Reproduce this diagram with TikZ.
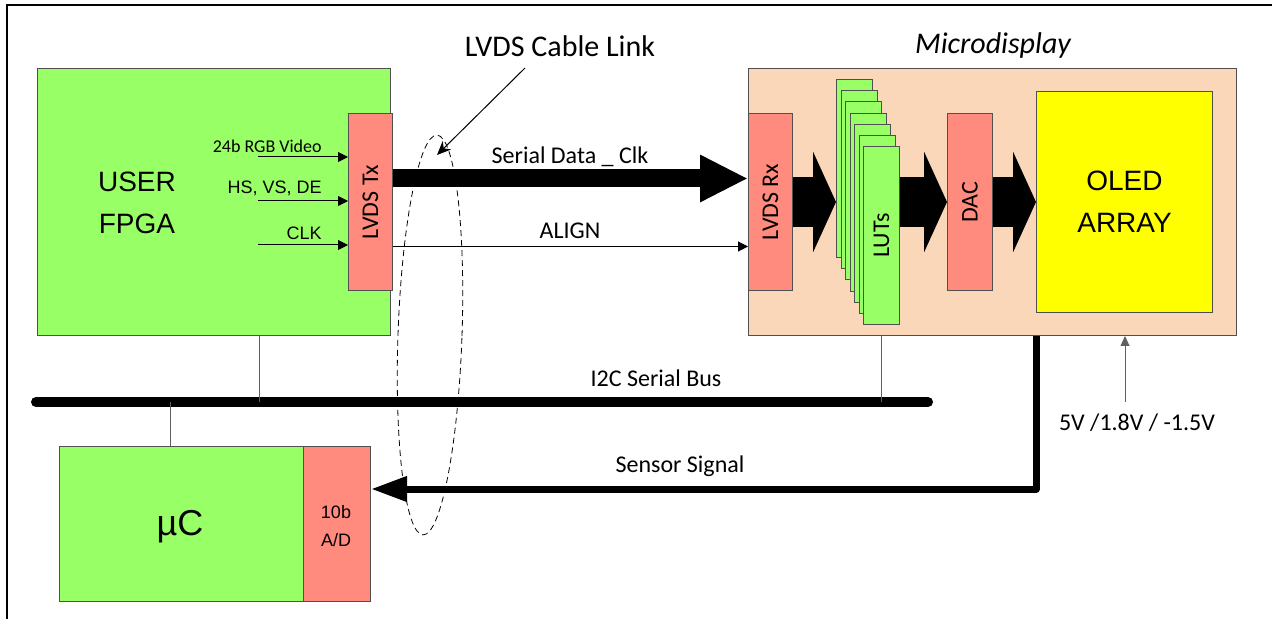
\documentclass[tikz,border=0pt]{standalone}
\usepackage{fontspec}
\setmainfont{Carlito}
\newfontfamily\arial{Liberation Sans}
\usetikzlibrary{arrows.meta,shapes.geometric,calc}
\definecolor{fgreen}{HTML}{99FF66}
\definecolor{salmon}{HTML}{FF8A7E}
\definecolor{peach}{HTML}{FAD7B9}
\definecolor{oyellow}{HTML}{FFFF00}
\definecolor{edge}{HTML}{505050}
\definecolor{wire}{HTML}{606060}
\tikzset{
  blk/.style={draw=edge, line width=0.5pt, inner sep=0pt, anchor=north west},
  gbox/.style={blk, fill=fgreen},
  sbox/.style={blk, fill=salmon},
  pbox/.style={blk, fill=peach},
  ybox/.style={blk, fill=oyellow},
  lab/.style={inner sep=0pt, font=\fontsize{12}{14}\selectfont},
  smallarrow/.style={line width=0.5pt, -{Triangle[length=5pt,width=5pt]}},
  blockarrow/.style={line width=25pt, -{Triangle[length=11.5pt,width=50pt]}},
  busline/.style={line width=5pt, line cap=round},
  wireline/.style={draw=wire, line width=0.5pt},
}
\begin{document}
\begin{tikzpicture}[x=0.5pt,y=-0.5pt]
\useasboundingbox (0,0) rectangle (1272,619);
% frame
\draw[line width=1pt] (7,619) -- (7,5) -- (1272,5);

% FPGA
\node[gbox, minimum width=176.5pt, minimum height=133.5pt] (fpga) at (37,68) {};
\node[sbox, minimum width=22pt, minimum height=88.5pt] (tx) at (348,113) {};
\node[rotate=90, lab] at (tx.center) {LVDS Tx};
\node[font=\arial\fontsize{14}{21}\selectfont, align=center] (fpgat) at (137,203) {USER\\FPGA};

% inputs
\coordinate (i1) at (258,157);
\coordinate (i2) at (258,201);
\coordinate (i3) at (258,245);
\draw[smallarrow] (i1) -- (i1 -| tx.west);
\draw[smallarrow] (i2) -- (i2 -| tx.west);
\draw[smallarrow] (i3) -- (i3 -| tx.west);
\node[anchor=south east, inner sep=0pt, font=\fontsize{9}{10}\selectfont] (l1) at (322,153) {24b RGB Video};
\node[anchor=south east, inner sep=0pt, font=\arial\fontsize{9}{10}\selectfont] (l2) at (322,196) {HS, VS, DE};
\node[anchor=south east, inner sep=0pt, font=\arial\fontsize{9}{10}\selectfont] (l3) at (322,240) {CLK};

% Microdisplay
\node[pbox, minimum width=244pt, minimum height=133.5pt] (micro) at (748,68) {};
\node[font=\itshape\fontsize{15}{18}\selectfont, inner sep=0pt] (microt) at (993,46) {Microdisplay};
\node[sbox, minimum width=22pt, minimum height=88.5pt] (rx) at (748,113) {};
\node[rotate=90, lab] at (rx.center) {LVDS Rx};
\foreach \i in {0,...,6}{
  \node[gbox, minimum width=18pt, minimum height=89pt] (lut\i) at ({836+4.5*\i},{79+11.2*\i}) {};
}
\node[rotate=90, lab] at ($(lut6.center)+(0,0)$) {LUTs};
\node[sbox, minimum width=22.5pt, minimum height=88.5pt] (dac) at (947,113) {};
\node[rotate=90, lab] at (dac.center) {DAC};
\node[ybox, minimum width=88pt, minimum height=110.5pt] (oled) at (1036,91) {};
\node[font=\arial\fontsize{14}{21}\selectfont, align=center] (oledt) at (oled.center) {OLED\\ARRAY};

% block arrows
\draw[blockarrow] (rx.east) -- (rx.east -| lut0.west);
\draw[blockarrow] (lut6.east |- dac.west) -- (dac.west);
\draw[blockarrow] (dac.east) -- (dac.east -| oled.west);

% serial data and align
\draw[line width=9pt, -{Triangle[length=24pt,width=22pt]}] ([yshift=11.75pt]tx.east) -- ([yshift=11.75pt]rx.west);
\node[lab] (sdl) at (570,157) {Serial Data \_ Clk};
\draw[smallarrow] ([yshift=-22.25pt]tx.east) -- ([yshift=-22.25pt]rx.west);
\node[lab] (al) at (570,231) {ALIGN};

% cable ellipse
\node[draw, dashed, dash pattern=on 3pt off 2pt, line width=0.4pt, ellipse, minimum width=32pt, minimum height=200pt, inner sep=0pt, rotate=-2] (cell) at (430,335) {};
\node[font=\fontsize{15}{18}\selectfont, inner sep=0pt] (cable) at (560,46) {LVDS Cable Link};
\coordinate (cp1) at (525,68);
\coordinate (cp2) at (437,155);
\draw[line width=0.5pt, -{Stealth[length=7pt,width=6pt]}] (cp1) -- (cp2);

% I2C bus
\coordinate (busL) at (36,402);
\coordinate (busR) at (928,402);
\draw[busline] (busL) -- (busR);
\node[lab] (i2c) at (656,378) {I2C Serial Bus};
\coordinate (d1) at (259,402);
\coordinate (d2) at (170,402);
\coordinate (d3) at (881,402);
\draw[wireline] (d1 |- fpga.south) -- (d1);
\draw[wireline] (d3 |- micro.south) -- (d3);

% uC
\node[gbox, minimum width=122pt, minimum height=77.5pt] (uc) at (59,446) {};
\node[sbox, minimum width=33.5pt, minimum height=77.5pt] (ad) at (303,446) {};
\draw[wireline] (d2) -- (d2 |- uc.north);
\node[font=\arial\fontsize{18}{20}\selectfont, inner sep=0pt] at (180,527) {µC};
\node[font=\arial\fontsize{9}{14}\selectfont, align=center, inner sep=0pt] at (336,526) {10b\\A/D};

% sensor signal
\coordinate (s1) at (1036,489);
\draw[line width=3.5pt, line join=round, -{Triangle[length=18pt,width=12pt]}] (s1 |- micro.south) -- (s1) -- (s1 -| ad.east);
\node[lab] (sens) at (680,466) {Sensor Signal};

% voltage
\coordinate (v) at (1125,402);
\draw[draw=wire, line width=0.5pt, -{Triangle[length=5pt,width=4.5pt]}] (v) -- (v |- micro.south);
\node[lab] (volt) at (1137,423) {5V /1.8V / -1.5V};
\end{tikzpicture}
\end{document}
